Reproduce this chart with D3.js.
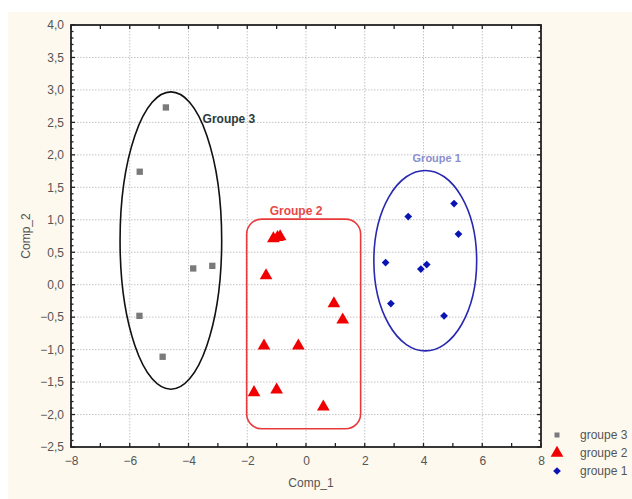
<!DOCTYPE html>
<html>
<head>
<meta charset="utf-8">
<script src="https://cdn.jsdelivr.net/npm/d3@7"></script>
<style>
  body { margin: 0; background: #fff; }
  svg { display: block; font-family: "Liberation Sans", Arial, sans-serif; }
</style>
</head>
<body>
<div id="chart"></div>
<script>
// groupe 3 (gray squares)
const g3X = [-4.77, -5.66, -3.84, -3.19, -5.67, -4.88];
const g3Y = [2.73, 1.74, 0.25, 0.29, -0.48, -1.11];
// groupe 2 (red triangles)
const g2X = [-1.11, -0.97, -0.88, -1.36, 0.95, 1.25, -1.43, -0.26, -1.77, -1.0, 0.59];
const g2Y = [0.71, 0.73, 0.74, 0.14, -0.29, -0.54, -0.94, -0.94, -1.66, -1.62, -1.88];
// groupe 1 (blue dots)
const g1X = [3.48, 5.04, 5.19, 2.71, 4.11, 3.91, 2.89, 4.70];
const g1Y = [1.05, 1.25, 0.78, 0.34, 0.31, 0.24, -0.29, -0.48];

const xTicks = [-8, -6, -4, -2, 0, 2, 4, 6, 8];
const yTicks = [-2.5, -2, -1.5, -1, -0.5, 0, 0.5, 1, 1.5, 2, 2.5, 3, 3.5, 4];

// enclosing shapes, in data units: [cx, cy, rx, ry]
const ellipse3 = [-4.6, 0.68, 1.73, 2.29];
const ellipse1 = [4.06, 0.37, 1.75, 1.39];
// rounded box around groupe 2: [x0, x1, y0, y1]
const box2 = [-2.02, 1.86, -2.22, 1.01];

const legendNames = ["groupe 3", "groupe 2", "groupe 1"];

const W = 632, H = 499;
const margin = { left: 71, top: 25, right: 91, bottom: 52 };
const width = W - margin.left - margin.right;
const height = H - margin.top - margin.bottom;

const svg = d3.select("#chart").append("svg").attr("width", W).attr("height", H);
svg.append("rect").attr("x", 8).attr("y", 12).attr("width", W - 8).attr("height", H - 12).attr("fill", "#fdf9ef");

const g = svg.append("g").attr("transform", `translate(${margin.left},${margin.top})`);
g.append("rect").attr("width", width).attr("height", height).attr("fill", "#fff");

const x = d3.scaleLinear().domain([-8, 8]).range([0, width]);
const y = d3.scaleLinear().domain([-2.5, 4]).range([height, 0]);

// grid
g.append("g").selectAll("line").data(xTicks.slice(1, -1)).enter().append("line")
  .attr("x1", d => x(d)).attr("x2", d => x(d)).attr("y1", 0).attr("y2", height)
  .attr("stroke", "#c4c4c4").attr("stroke-dasharray", "1.5,1.5");
g.append("g").selectAll("line").data(yTicks.slice(1, -1)).enter().append("line")
  .attr("y1", d => y(d)).attr("y2", d => y(d)).attr("x1", 0).attr("x2", width)
  .attr("stroke", "#c4c4c4").attr("stroke-dasharray", "1.5,1.5");

// axes
const fmt = d => d3.format(".1f")(d).replace(".", ",");
const minorX = d3.range(-8, 9, 1);
const minorY = d3.range(-25, 41, 1).map(v => v / 10);

const ax = g.append("g").attr("transform", `translate(0,${height})`)
  .call(d3.axisBottom(x).tickValues(xTicks).tickSize(0).tickPadding(9).tickFormat(d3.format("d")));
const ay = g.append("g")
  .call(d3.axisLeft(y).tickValues(yTicks).tickSize(0).tickPadding(7).tickFormat(fmt));
[ax, ay].forEach(a => {
  a.select(".domain").remove();
  a.selectAll("text").attr("fill", "#555").style("font-size", "12px").style("font-family", "Liberation Sans, Arial, sans-serif");
});

// inward tick marks on all four sides
const tk = g.append("g").attr("stroke", "#222").attr("stroke-width", 1.3);
minorX.forEach(v => {
  tk.append("line").attr("x1", x(v)).attr("x2", x(v)).attr("y1", height).attr("y2", height - 4);
  tk.append("line").attr("x1", x(v)).attr("x2", x(v)).attr("y1", 0).attr("y2", 4);
});
minorY.forEach((v, i) => {
  const len = (i % 5 === 0) ? 4 : 2.5;
  tk.append("line").attr("y1", y(v)).attr("y2", y(v)).attr("x1", 0).attr("x2", len);
  tk.append("line").attr("y1", y(v)).attr("y2", y(v)).attr("x1", width).attr("x2", width - len);
});
g.append("rect").attr("width", width).attr("height", height)
  .attr("fill", "none").attr("stroke", "#222").attr("stroke-width", 1.8);

// axis titles
g.append("text").attr("x", width / 2 + 5).attr("y", height + 40)
  .attr("text-anchor", "middle").attr("fill", "#555").style("font-size", "12px").text("Comp_1");
g.append("text").attr("transform", "rotate(-90)").attr("x", -(y(0.75))).attr("y", -41)
  .attr("text-anchor", "middle").attr("fill", "#555").style("font-size", "12px").text("Comp_2");

// enclosing shapes
g.append("ellipse").attr("cx", x(ellipse3[0])).attr("cy", y(ellipse3[1]))
  .attr("rx", x(ellipse3[0] + ellipse3[2]) - x(ellipse3[0]))
  .attr("ry", y(ellipse3[1] - ellipse3[3]) - y(ellipse3[1]))
  .attr("fill", "none").attr("stroke", "#111").attr("stroke-width", 1.6);
g.append("ellipse").attr("cx", x(ellipse1[0])).attr("cy", y(ellipse1[1]))
  .attr("rx", x(ellipse1[0] + ellipse1[2]) - x(ellipse1[0]))
  .attr("ry", y(ellipse1[1] - ellipse1[3]) - y(ellipse1[1]))
  .attr("fill", "none").attr("stroke", "#2828b0").attr("stroke-width", 1.6);
g.append("rect").attr("x", x(box2[0])).attr("y", y(box2[3]))
  .attr("width", x(box2[1]) - x(box2[0])).attr("height", y(box2[2]) - y(box2[3]))
  .attr("rx", 15).attr("fill", "none").attr("stroke", "#e83a3a").attr("stroke-width", 1.6);

// group labels
g.append("text").attr("x", x(-3.52)).attr("y", y(2.55)).attr("dy", "0.35em")
  .attr("fill", "#2b3a3a").style("font-size", "12px").style("font-weight", "bold").text("Groupe 3");
g.append("text").attr("x", x(-0.34)).attr("y", y(1.14)).attr("dy", "0.35em").attr("text-anchor", "middle")
  .attr("fill", "#e84848").style("font-size", "12px").style("font-weight", "bold").text("Groupe 2");
g.append("text").attr("x", x(4.45)).attr("y", y(1.95)).attr("dy", "0.35em").attr("text-anchor", "middle")
  .attr("fill", "#8a8ed0").style("font-size", "11px").style("font-weight", "bold").text("Groupe 1");

// points
const sq = d3.symbol().type(d3.symbolSquare).size(40);
const tri = d3.symbol().type(d3.symbolTriangle).size(70);
const dot = d3.symbol().type(d3.symbolSquare).size(30);

g.append("g").selectAll("path").data(g3X.map((v, i) => [v, g3Y[i]])).enter().append("path")
  .attr("d", sq).attr("transform", d => `translate(${x(d[0])},${y(d[1])})`).attr("fill", "#7a7a7a");
g.append("g").selectAll("path").data(g2X.map((v, i) => [v, g2Y[i]])).enter().append("path")
  .attr("d", tri).attr("transform", d => `translate(${x(d[0])},${y(d[1])})`).attr("fill", "#f00000");
g.append("g").selectAll("path").data(g1X.map((v, i) => [v, g1Y[i]])).enter().append("path")
  .attr("d", dot).attr("transform", d => `translate(${x(d[0])},${y(d[1])}) rotate(45)`).attr("fill", "#0a14b4");

// legend
const legSyms = [d3.symbol().type(d3.symbolSquare).size(25), tri, dot];
const legCols = ["#7a7a7a", "#f00000", "#0a14b4"];
const leg = svg.append("g").attr("transform", "translate(557,435)");
legendNames.forEach((name, i) => {
  const row = leg.append("g").attr("transform", `translate(0,${i * 18})`);
  row.append("path").attr("d", legSyms[i]).attr("fill", legCols[i])
    .attr("transform", i === 2 ? "rotate(45)" : null);
  row.append("text").attr("x", 23).attr("dy", "0.35em").attr("fill", "#555").style("font-size", "12px").text(name);
});
</script>
</body>
</html>
